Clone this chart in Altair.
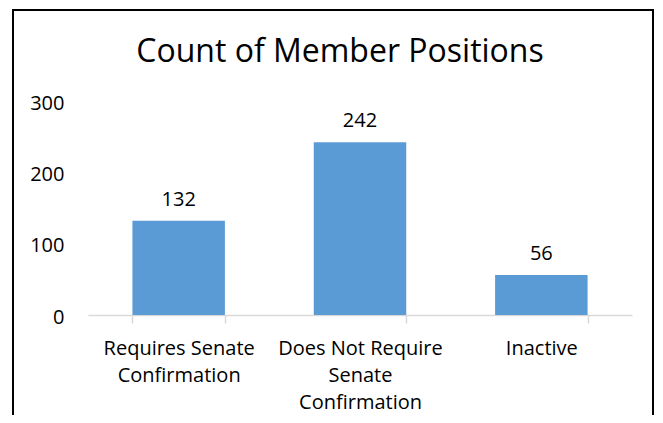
import altair as alt
import pandas as pd

categories = ["Requires Senate Confirmation", "Does Not Require Senate Confirmation", "Inactive"]
wrapped = ["Requires Senate|Confirmation", "Does Not Require|Senate|Confirmation", "Inactive"]
counts = [132, 242, 56]
y_ticks = [0, 100, 200, 300]
title_text = "Count of Member Positions"

df = pd.DataFrame({"category": wrapped, "count": counts})

FONT = "Open Sans"
BAR = "#5B9BD5"
AXIS_GRAY = "#D9D9D9"

base = alt.Chart(df).encode(
    x=alt.X(
        "category:N",
        sort=wrapped,
        scale=alt.Scale(paddingInner=0.49, paddingOuter=0.245),
        axis=alt.Axis(
            title=None,
            labelAngle=0,
            labelExpr="split(datum.label, '|')",
            labelFont=FONT,
            labelFontSize=20,
            labelColor="#000000",
            labelLineHeight=27,
            labelPadding=15,
            domainColor=AXIS_GRAY,
            domainWidth=1.5,
            tickColor=AXIS_GRAY,
            tickWidth=1.5,
            tickSize=8,
            tickBand="extent",
            grid=False,
        ),
    ),
    y=alt.Y(
        "count:Q",
        scale=alt.Scale(domain=[0, 300], nice=False),
        axis=alt.Axis(
            title=None,
            values=y_ticks,
            domain=False,
            ticks=False,
            grid=False,
            labelFont=FONT,
            labelFontSize=20,
            labelColor="#000000",
            labelPadding=24,
            labelBaseline="middle",
            labelOffset=2,
        ),
    ),
)

bars = base.mark_bar(color=BAR)
labels = base.mark_text(
    font=FONT, fontSize=20, color="#000000", baseline="alphabetic", dy=-15
).encode(text="count:Q")

one = pd.DataFrame({"f": [0]})
frame_left = alt.Chart(one).mark_rule(color="#000000", strokeWidth=2).encode(
    x=alt.value(-75), y=alt.value(-92), y2=alt.value(600)
)
frame_right = alt.Chart(one).mark_rule(color="#000000", strokeWidth=2).encode(
    x=alt.value(565), y=alt.value(-92), y2=alt.value(600)
)
frame_top = alt.Chart(one).mark_rule(color="#000000", strokeWidth=2).encode(
    x=alt.value(-76), x2=alt.value(566), y=alt.value(-91)
)

title = alt.Chart(pd.DataFrame({"t": [title_text]})).mark_text(
    font=FONT, fontSize=32, color="#000000", baseline="alphabetic", align="center"
).encode(
    text="t:N", x=alt.value(252), y=alt.value(-39)
)

chart = alt.layer(frame_left, frame_right, frame_top, bars, labels, title).properties(
    width=544,
    height=214,
    background="white",
    autosize=alt.AutoSizeParams(type="none"),
    padding={"left": 80, "top": 93, "right": 23, "bottom": 100},
).configure_view(strokeWidth=0, stroke="transparent")

chart.save("out.html", embed_options={"renderer": "svg", "actions": False})
